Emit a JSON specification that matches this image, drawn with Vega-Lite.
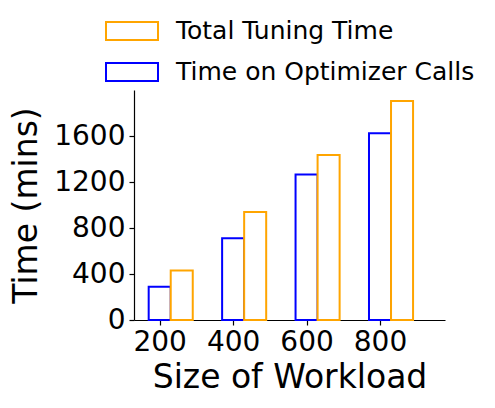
{
  "$schema": "https://vega.github.io/schema/vega-lite/v6.json",
  "width": 311,
  "height": 230,
  "autosize": {"type": "none"},
  "padding": {"left": 134, "top": 90, "right": 50, "bottom": 88},
  "config": {
    "font": "DejaVu Sans",
    "view": {"stroke": null},
    "axis": {"grid": false, "domainColor": "black", "tickColor": "black", "labelColor": "black", "titleColor": "black", "labelFont": "DejaVu Sans", "titleFont": "DejaVu Sans", "titleFontWeight": "normal", "domainWidth": 1.2, "tickWidth": 1.2}
  },
  "data": {
    "values": [
      {"size": 200, "series": "Time on Optimizer Calls", "time": 290},
      {"size": 200, "series": "Total Tuning Time", "time": 430},
      {"size": 400, "series": "Time on Optimizer Calls", "time": 710},
      {"size": 400, "series": "Total Tuning Time", "time": 940},
      {"size": 600, "series": "Time on Optimizer Calls", "time": 1265},
      {"size": 600, "series": "Total Tuning Time", "time": 1435},
      {"size": 800, "series": "Time on Optimizer Calls", "time": 1625},
      {"size": 800, "series": "Total Tuning Time", "time": 1905}
    ]
  },
  "transform": [
    {"calculate": "datum.series == 'Total Tuning Time' ? datum.size + 30 : datum.size - 30", "as": "x0"},
    {"calculate": "datum.x0 + 60", "as": "x1"}
  ],
  "mark": {"type": "bar", "fill": "white", "strokeWidth": 2},
  "encoding": {
    "x": {
      "field": "x0", "type": "quantitative",
      "scale": {"domain": [130, 977], "nice": false, "zero": false},
      "axis": {"values": [200, 400, 600, 800], "title": "Size of Workload", "labelFontSize": 28, "titleFontSize": 33, "tickSize": 5, "labelPadding": 3, "titlePadding": 5, "labelFlush": false}
    },
    "x2": {"field": "x1"},
    "y": {
      "field": "time", "type": "quantitative",
      "scale": {"domain": [0, 2000], "nice": false},
      "axis": {"values": [0, 400, 800, 1200, 1600], "format": "d", "title": "Time (mins)", "labelFontSize": 28, "titleFontSize": 33, "tickSize": 5, "labelPadding": 4, "titlePadding": 10}
    },
    "y2": {"datum": 0},
    "stroke": {
      "field": "series", "type": "nominal",
      "scale": {"domain": ["Total Tuning Time", "Time on Optimizer Calls"], "range": ["#ffa500", "#0000ff"]},
      "legend": {
        "title": null, "orient": "none", "legendX": -29, "legendY": -86,
        "symbolType": "M-1,-0.35H1V0.35H-1Z", "symbolSize": 2704,
        "symbolFillColor": "white", "symbolStrokeWidth": 2,
        "labelFontSize": 25, "labelColor": "black", "labelOffset": 17, "labelLimit": 400,
        "rowPadding": -15, "labelFont": "DejaVu Sans"
      }
    }
  }
}
